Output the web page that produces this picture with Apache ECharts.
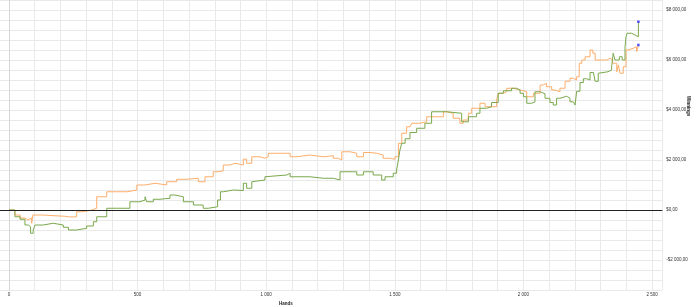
<!DOCTYPE html>
<html>
<head>
<meta charset="utf-8">
<script src="https://cdn.jsdelivr.net/npm/echarts@6/dist/echarts.min.js"></script>
<style>html,body{margin:0;padding:0;background:#fff}#c{width:700px;height:307px}</style>
</head>
<body>
<div id="c"></div>
<script>
// ---- data (hands, winnings in $) ----
const orangeHands = [0,23,43,62,74,88,93,132,179,218,237,263,288,322,341,380,419,458,497,529,568,613,652,691,736,762,794,814,833,859,879,911,924,944,976,995,1008,1080,1093,1119,1170,1222,1261,1280,1294,1326,1352,1378,1404,1430,1455,1481,1501,1514,1527,1546,1559,1566,1598,1624,1689,1702,1727,1753,1766,1786,1799,1831,1851,1896,1902,1922,1935,1961,1987,2013,2039,2065,2077,2090,2110,2123,2142,2162,2181,2194,2207,2217,2227,2240,2259,2270,2279,2304,2324,2337,2347,2363,2369,2376,2388,2399,2408,2427,2440,2447];
const orangeWinnings = [0,-200,-320,-400,-320,-530,-200,-230,-250,-280,-270,-70,0,70,530,730,730,800,1000,1070,1000,1130,1230,1270,1130,1330,1530,1570,1800,1870,1800,2030,1870,2130,2070,2130,2270,2270,2130,2200,2130,2170,2070,2000,2330,2270,2130,2300,2270,2200,2070,2030,2130,2670,3070,3330,3400,3470,3530,3730,3930,3870,3670,3470,3600,3870,4070,4270,4130,4400,4670,4730,4870,4800,4730,4530,4670,5000,5070,4930,4800,4730,4870,5150,5270,5200,5330,5870,6000,6130,6400,6270,6000,6000,6070,6000,5870,5530,5800,5470,5730,6400,6470,6530,6330,6600];

const greenHands = [0,23,43,62,75,84,94,101,133,172,211,231,263,302,328,341,380,419,470,509,529,535,561,587,626,645,678,717,755,775,811,822,833,872,911,924,944,950,995,1002,1080,1093,1170,1222,1261,1287,1352,1378,1416,1449,1462,1494,1507,1514,1520,1527,1540,1559,1585,1617,1643,1702,1760,1786,1818,1831,1857,1876,1902,1922,1954,1974,1987,2000,2013,2032,2045,2065,2084,2103,2116,2129,2142,2168,2181,2194,2201,2207,2220,2233,2246,2259,2272,2279,2291,2298,2329,2343,2349,2356,2373,2384,2395,2399,2403,2421,2434,2447];
const greenWinnings = [0,-270,-370,-600,-670,-930,-800,-600,-530,-600,-690,-800,-730,-640,-470,-270,70,70,330,400,530,330,430,470,600,530,330,200,70,130,400,730,800,780,1070,870,1130,1200,1330,1400,1470,1330,1270,1270,1200,1530,1400,1530,1400,1200,1330,1470,1600,2000,2400,2670,2850,3100,3270,3470,3930,3870,3530,3730,3870,4070,4130,4300,4670,4770,4870,4800,4670,4530,4270,4330,4730,4650,4470,4300,4200,4470,4550,4470,4330,4270,4200,4750,5100,5250,5200,5500,5470,5150,5470,5530,5600,5730,6270,6000,6130,6000,6530,6930,7070,7000,6930,7530];

const xTickLabels = [0, 500, 1000, 1500, 2000, 2500];
const yTickLabels = [-2000, 0, 2000, 4000, 6000, 8000];

function spaced(n){ return String(Math.abs(n)).replace(/\B(?=(\d{3})+(?!\d))/g, ' '); }
function money(v){ return (v < 0 ? '-$' : '$') + spaced(v) + ',00'; }
function pairs(h, w){ return h.map((x, i) => [x, w[i]]); }

const chart = echarts.init(document.getElementById('c'), null, {renderer: 'canvas'});
const FONT = 'Liberation Sans';
const gridColor = '#e9e9e9';
const X_MAX = 2540;

chart.setOption({
  animation: false,
  backgroundColor: '#fff',
  grid: [
    {left: 0, right: 37.7, top: 0, bottom: 17, containLabel: false},
    {left: 9, right: 37.7, top: 0, bottom: 17, containLabel: false}
  ],
  xAxis: [
    {
      gridIndex: 0, type: 'value', min: -35, max: X_MAX,
      axisLine: {show: true, lineStyle: {color: '#d6d6d6', width: 1}},
      axisTick: {show: false}, axisLabel: {show: false}, splitLine: {show: false}
    },
    {
      gridIndex: 1, type: 'value', min: 0, max: X_MAX, interval: 100,
      axisLine: {show: false},
      axisTick: {show: false},
      splitLine: {show: true, lineStyle: {color: gridColor, width: 1}},
      axisLabel: {
        margin: 2, fontSize: 4.5, fontFamily: FONT, color: '#333',
        formatter: v => xTickLabels.indexOf(v) >= 0 ? spaced(v) : ''
      }
    }
  ],
  yAxis: [
    {
      gridIndex: 0, type: 'value', position: 'right', min: -3200, max: 8400, interval: 400,
      axisLine: {show: true, lineStyle: {color: '#d6d6d6', width: 1}},
      axisTick: {show: false},
      splitLine: {show: true, lineStyle: {color: gridColor, width: 1}},
      axisLabel: {
        margin: 4, fontSize: 4.5, fontFamily: FONT, color: '#333',
        formatter: v => yTickLabels.indexOf(v) >= 0 ? money(v) : ''
      }
    },
    {gridIndex: 1, type: 'value', min: -3200, max: 8400, show: false}
  ],
  series: [
    {
      type: 'line', name: 'orange', step: 'end', showSymbol: false,
      xAxisIndex: 0, yAxisIndex: 0,
      data: pairs(orangeHands, orangeWinnings),
      lineStyle: {color: '#fdae6b', width: 1}, itemStyle: {color: '#fdae6b'},
      z: 3
    },
    {
      type: 'line', name: 'green', step: 'end', showSymbol: false,
      xAxisIndex: 0, yAxisIndex: 0,
      data: pairs(greenHands, greenWinnings),
      lineStyle: {color: '#7aa84c', width: 1}, itemStyle: {color: '#7aa84c'},
      z: 4,
      markLine: {
        silent: true, symbol: 'none', label: {show: false},
        lineStyle: {color: '#222', width: 1.2, type: 'solid'},
        data: [{yAxis: 0}]
      }
    },
    {
      type: 'scatter', symbol: 'rect', symbolSize: 2.5, z: 6,
      xAxisIndex: 0, yAxisIndex: 0,
      itemStyle: {color: '#2a2aff'},
      data: [
        [orangeHands[orangeHands.length - 1], orangeWinnings[orangeWinnings.length - 1]],
        [greenHands[greenHands.length - 1], greenWinnings[greenWinnings.length - 1]]
      ]
    }
  ],
  graphic: [
    {type: 'text', left: 279, top: 301, style: {text: 'Hands', fontSize: 4.5, fontWeight: 'bold', fontFamily: FONT, fill: '#222'}},
    {type: 'text', x: 691, y: 96, rotation: -Math.PI / 2, style: {text: 'Winnings', fontSize: 4.5, fontWeight: 'bold', fontFamily: FONT, fill: '#222'}}
  ]
});
</script>
</body>
</html>
